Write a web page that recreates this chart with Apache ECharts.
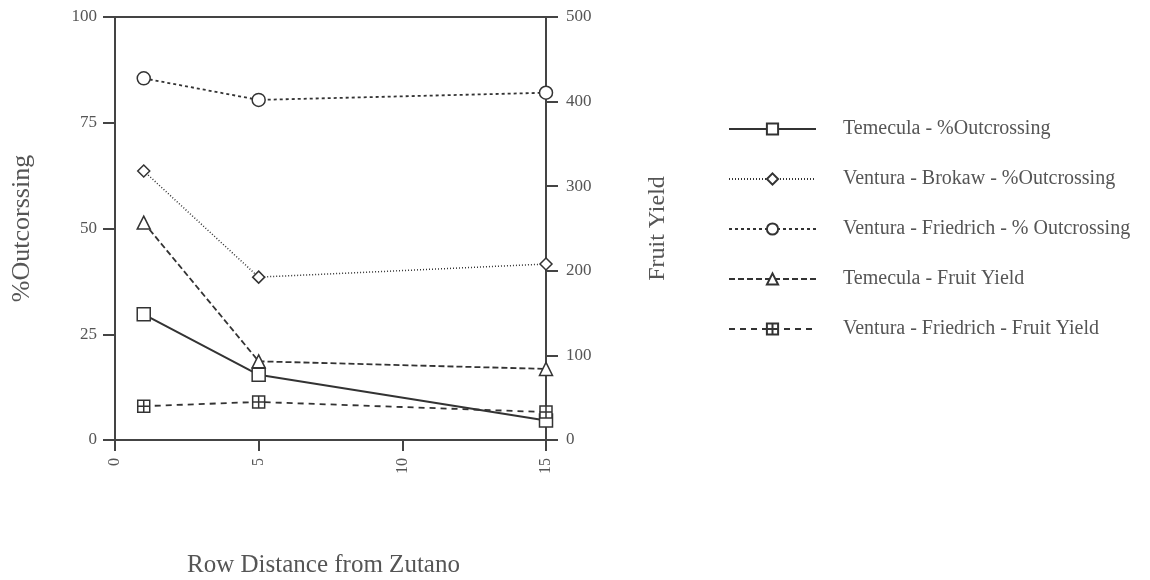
<!DOCTYPE html>
<html>
<head>
<meta charset="utf-8">
<script src="https://cdn.jsdelivr.net/npm/echarts@6/dist/echarts.min.js"></script>
<style>html,body{margin:0;padding:0;background:#fff}#c{width:1150px;height:580px}</style>
</head>
<body>
<div id="c"></div>
<script>
const xValues = [1, 5, 15];
const temeculaPct = [29.7, 15.4, 4.6];
const brokawPct = [63.6, 38.5, 41.6];
const friedrichPct = [85.5, 80.4, 82.1];
const temeculaYield = [257, 93, 84];
const friedrichYield = [40, 45, 33];
const seriesNames = [
  'Temecula - %Outcrossing',
  'Ventura - Brokaw - %Outcrossing',
  'Ventura - Friedrich - % Outcrossing',
  'Temecula - Fruit Yield',
  'Ventura - Friedrich - Fruit Yield'
];

const ink = '#333';
const axisColor = '#444';
const textColor = '#555';
const font = '"Liberation Serif", "DejaVu Serif", serif';
const pairs = v => xValues.map((x, i) => [x, v[i]]);
const mk = (name, data, yIdx, symbol, size, lineType, width) => ({
  name, type: 'line', data: pairs(data), yAxisIndex: yIdx,
  symbol, symbolSize: size, showSymbol: true,
  lineStyle: { color: ink, width: width, type: lineType },
  itemStyle: { color: '#fff', borderColor: ink, borderWidth: 1.5 },
  emphasis: { disabled: true }, animation: false, z: 3
});
const crossSym = 'path://M0,0H10V10H0Z M5,0V10 M0,5H10';

const chart = echarts.init(document.getElementById('c'));
chart.setOption({
  backgroundColor: '#fff',
  animation: false,
  textStyle: { fontFamily: font },
  grid: { left: 115, right: 604, top: 17, bottom: 140, show: true, borderColor: axisColor, borderWidth: 2, outerBoundsMode: 'none', containLabel: false },
  legend: {
    orient: 'vertical', left: 723, top: 114, itemWidth: 87, itemHeight: 14, itemGap: 30,
    textStyle: { fontFamily: font, fontSize: 20, lineHeight: 20, color: textColor, padding: [0, 0, 0, 22] },
    data: seriesNames
  },
  xAxis: {
    type: 'value', min: 0, max: 15, interval: 5,
    name: 'Row Distance from Zutano', nameLocation: 'middle', nameGap: 113,
    nameTextStyle: { fontFamily: font, fontSize: 25, color: textColor, padding: [0, 14, 0, 0] },
    axisLine: { lineStyle: { color: axisColor, width: 2 } },
    axisTick: { show: true, length: 11, lineStyle: { color: axisColor, width: 2 } },
    axisLabel: { rotate: 90, margin: 18, fontFamily: font, fontSize: 16, color: textColor },
    splitLine: { show: false }
  },
  yAxis: [{
    type: 'value', min: 0, max: 100, interval: 25, position: 'left',
    name: '%Outcorssing', nameLocation: 'middle', nameGap: 80,
    nameTextStyle: { fontFamily: font, fontSize: 26, color: textColor },
    axisLine: { show: true, lineStyle: { color: axisColor, width: 2 } },
    axisTick: { show: true, length: 12, lineStyle: { color: axisColor, width: 2 } },
    axisLabel: { margin: 18, fontFamily: font, fontSize: 17, color: textColor },
    splitLine: { show: false }
  }, {
    type: 'value', min: 0, max: 500, interval: 100, position: 'right',
    name: 'Fruit Yield', nameLocation: 'middle', nameGap: 100,
    nameTextStyle: { fontFamily: font, fontSize: 24, color: textColor },
    axisLine: { show: true, lineStyle: { color: axisColor, width: 2 } },
    axisTick: { show: true, length: 12, lineStyle: { color: axisColor, width: 2 } },
    axisLabel: { margin: 20, fontFamily: font, fontSize: 17, color: textColor },
    splitLine: { show: false }
  }],
  series: [
    mk(seriesNames[0], temeculaPct, 0, 'rect', 13, 'solid', 2),
    mk(seriesNames[1], brokawPct, 0, 'diamond', 12, [1, 2], 1.5),
    mk(seriesNames[2], friedrichPct, 0, 'circle', 13, [3, 3], 1.8),
    mk(seriesNames[3], temeculaYield, 1, 'triangle', 13, [6, 3], 1.8),
    mk(seriesNames[4], friedrichYield, 1, crossSym, 12, [6, 5], 1.8)
  ]
});
</script>
</body>
</html>
